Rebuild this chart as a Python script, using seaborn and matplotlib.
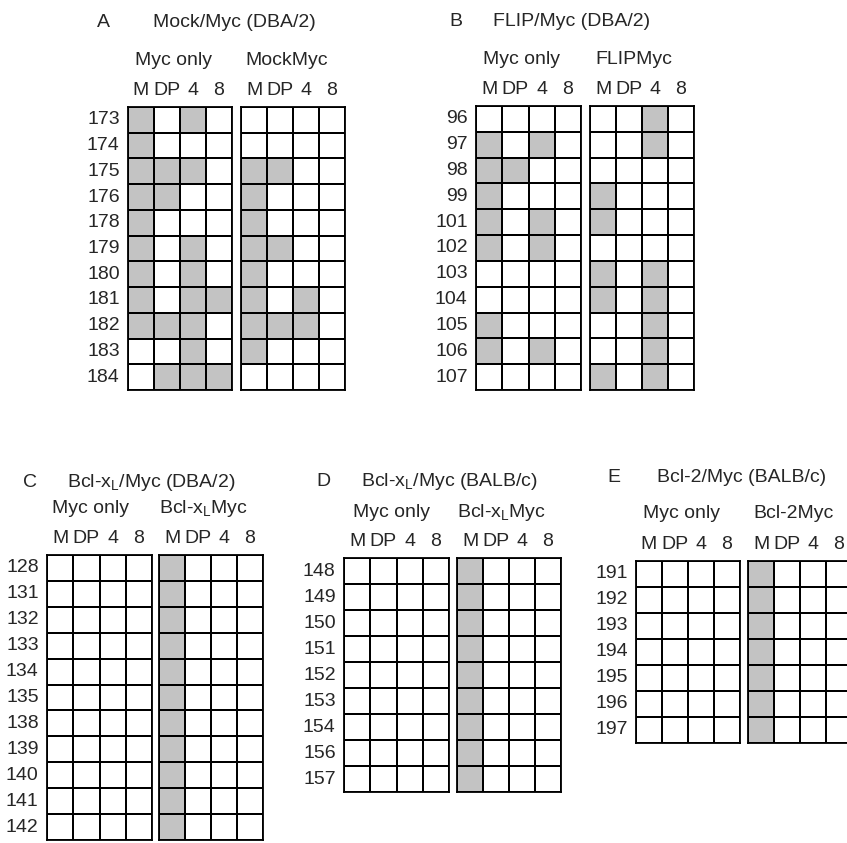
import numpy as np
import pandas as pd
import matplotlib
matplotlib.use("Agg")
import matplotlib.pyplot as plt
import seaborn as sns
from matplotlib.colors import ListedColormap

sns.set_style("white")
plt.rcParams['font.family'] = ['Liberation Sans', 'DejaVu Sans']
plt.rcParams['mathtext.fontset'] = 'custom'
plt.rcParams['mathtext.rm'] = 'Liberation Sans'
plt.rcParams['mathtext.it'] = 'Liberation Sans'

# figure size in pixels
W, H = 847, 843
FS = 14
LW = 1.1
cmap = ListedColormap(['white', '#c3c3c3'])

columns = ["M", "DP", "4", "8"]

# Panel A: Mock/Myc (DBA/2)
a_rows = ["173", "174", "175", "176", "178", "179", "180", "181", "182", "183", "184"]
a_myc_only = [[1, 0, 1, 0], [1, 0, 0, 0], [1, 1, 1, 0], [1, 1, 0, 0], [1, 0, 0, 0],
              [1, 0, 1, 0], [1, 0, 1, 0], [1, 0, 1, 1], [1, 1, 1, 0], [0, 0, 1, 0],
              [0, 1, 1, 1]]
a_mock_myc = [[0, 0, 0, 0], [0, 0, 0, 0], [1, 1, 0, 0], [1, 0, 0, 0], [1, 0, 0, 0],
              [1, 1, 0, 0], [1, 0, 0, 0], [1, 0, 1, 0], [1, 1, 1, 0], [1, 0, 0, 0],
              [0, 0, 0, 0]]

# Panel B: FLIP/Myc (DBA/2)
b_rows = ["96", "97", "98", "99", "101", "102", "103", "104", "105", "106", "107"]
b_myc_only = [[0, 0, 0, 0], [1, 0, 1, 0], [1, 1, 0, 0], [1, 0, 0, 0], [1, 0, 1, 0],
              [1, 0, 1, 0], [0, 0, 0, 0], [0, 0, 0, 0], [1, 0, 0, 0], [1, 0, 1, 0],
              [0, 0, 0, 0]]
b_flip_myc = [[0, 0, 1, 0], [0, 0, 1, 0], [0, 0, 0, 0], [1, 0, 0, 0], [1, 0, 0, 0],
              [0, 0, 0, 0], [1, 0, 1, 0], [1, 0, 1, 0], [0, 0, 1, 0], [0, 0, 1, 0],
              [1, 0, 1, 0]]

# Panel C: Bcl-xL/Myc (DBA/2)
c_rows = ["128", "131", "132", "133", "134", "135", "138", "139", "140", "141", "142"]
c_myc_only = [[0, 0, 0, 0]] * 11
c_bcl_myc = [[1, 0, 0, 0]] * 11

# Panel D: Bcl-xL/Myc (BALB/c)
d_rows = ["148", "149", "150", "151", "152", "153", "154", "156", "157"]
d_myc_only = [[0, 0, 0, 0]] * 9
d_bcl_myc = [[1, 0, 0, 0]] * 9

# Panel E: Bcl-2/Myc (BALB/c)
e_rows = ["191", "192", "193", "194", "195", "196", "197"]
e_myc_only = [[0, 0, 0, 0]] * 7
e_bcl2_myc = [[1, 0, 0, 0]] * 7

BCLXL = r"Bcl-x$_\mathregular{L}$"

fig = plt.figure(figsize=(W / 100, H / 100), dpi=100)


def ftext(x, y, s, **kw):
    fig.text(x / W, 1 - y / H, s, fontsize=FS, va='baseline', **kw)


def grid(left, right, top, bottom, values, rows, show_rows):
    ax = fig.add_axes([left / W, 1 - bottom / H, (right - left) / W, (bottom - top) / H])
    df = pd.DataFrame(values, index=rows, columns=columns)
    sns.heatmap(df, ax=ax, cmap=cmap, vmin=0, vmax=1, cbar=False,
                linewidths=LW, linecolor='black',
                xticklabels=columns, yticklabels=rows if show_rows else False)
    ax.xaxis.tick_top()
    ax.tick_params(axis='x', length=0, pad=5.5, labelsize=FS, rotation=0)
    ax.tick_params(axis='y', length=0, pad=6, labelsize=FS, rotation=0)
    ax.set_xlabel("")
    ax.set_ylabel("")
    for sp in ax.spines.values():
        sp.set_visible(True)
        sp.set_linewidth(LW + 0.2)
        sp.set_color('black')
    return ax


panels = [
    # letter, letter x, title, title x, title baseline, group names, group x, group baseline,
    # grid 1 x-range, grid 2 x-range, top, bottom, rows, data
    ("A", 97, "Mock/Myc (DBA/2)", 153, 27, ("Myc only", "MockMyc"), (135, 245), 65,
     (128, 232), (241, 345), 107, 390, a_rows, a_myc_only, a_mock_myc),
    ("B", 449, "FLIP/Myc (DBA/2)", 493, 26, ("Myc only", "FLIPMyc"), (483, 595), 64,
     (476, 581), (590, 694), 106, 390, b_rows, b_myc_only, b_flip_myc),
    ("C", 23, BCLXL + "/Myc (DBA/2)", 67, 487, ("Myc only", BCLXL + "Myc"), (52, 159), 513,
     (47, 152), (159, 263), 555, 840, c_rows, c_myc_only, c_bcl_myc),
    ("D", 316, BCLXL + "/Myc (BALB/c)", 361, 486, ("Myc only", BCLXL + "Myc"), (353, 457), 517,
     (344, 449), (457, 561), 558, 792, d_rows, d_myc_only, d_bcl_myc),
    ("E", 607, "Bcl-2/Myc (BALB/c)", 657, 482, ("Myc only", "Bcl-2Myc"), (643, 753), 518,
     (636, 740), (748, 852), 561, 743, e_rows, e_myc_only, e_bcl2_myc),
]

for (letter, lx, title, tx, ty, groups, gx, gy, g1, g2, top, bottom, rows, v1, v2) in panels:
    ftext(lx, ty, letter, ha='left')
    ftext(tx, ty, title, ha='left')
    ftext(gx[0], gy, groups[0], ha='left')
    ftext(gx[1], gy, groups[1], ha='left')
    grid(g1[0], g1[1], top, bottom, v1, rows, True)
    grid(g2[0], g2[1], top, bottom, v2, rows, False)

fig.savefig("out.png", dpi=100, facecolor='white')
